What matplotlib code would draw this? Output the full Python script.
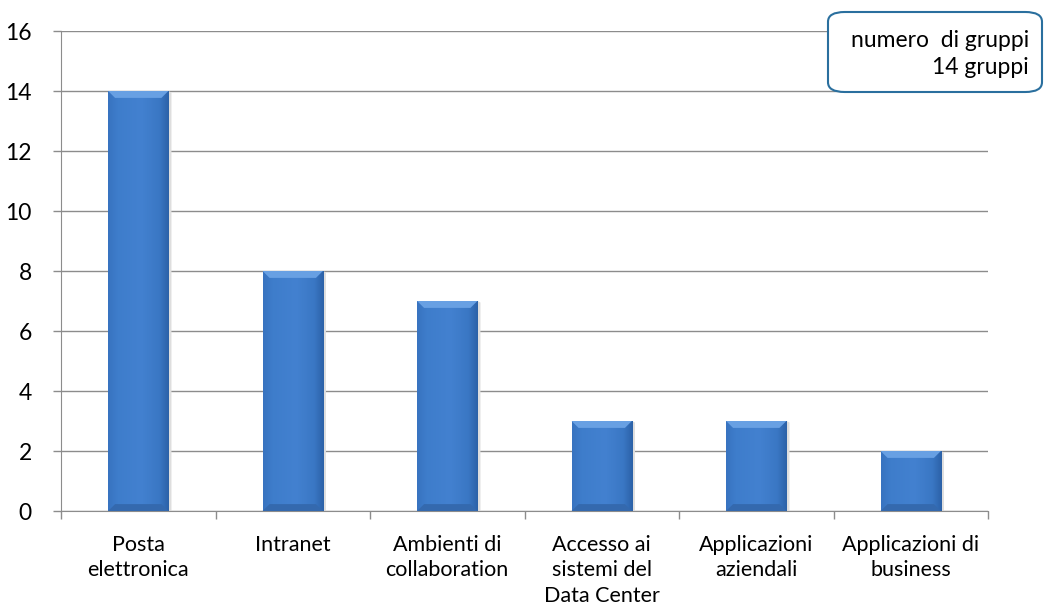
import matplotlib
matplotlib.use("Agg")
import matplotlib.pyplot as plt
import numpy as np
from matplotlib.patches import FancyBboxPatch, Polygon

categories = ["Posta\nelettronica", "Intranet", "Ambienti di\ncollaboration",
              "Accesso ai\nsistemi del\nData Center", "Applicazioni\naziendali",
              "Applicazioni di\nbusiness"]
values = [14, 8, 7, 3, 3, 2]
yticks = [0, 2, 4, 6, 8, 10, 12, 14, 16]

plt.rcParams['font.family'] = ['Lato', 'DejaVu Sans']

fig = plt.figure(figsize=(10.45, 6.1), dpi=100)
ax = fig.add_axes([61 / 1045, 1 - 511 / 610, (988 - 61) / 1045, 480 / 610])

x = np.arange(len(categories))
bw = 0.39
bars = ax.bar(x, values, width=bw, color="#3d7cc9", edgecolor="#2f64aa",
              linewidth=0.6, zorder=3)

# horizontal shading across each bar
grad = np.linspace(0, 1, 64)
cmap = matplotlib.colors.LinearSegmentedColormap.from_list(
    "b", [(0, "#3873c0"), (0.15, "#3e7dcb"), (0.55, "#4381d0"),
          (0.85, "#3a77c4"), (1, "#2c62a8")])
bx = 0.045   # bevel width (x units)
by = 0.23    # bevel height (y units)
for b in bars:
    x0, w, h = b.get_x(), b.get_width(), b.get_height()
    im = ax.imshow(grad[np.newaxis, :], cmap=cmap, vmin=0, vmax=1,
                   extent=[x0, x0 + w, 0, h], aspect="auto", zorder=4,
                   interpolation="bicubic")
    im.set_clip_path(b)
    # light top bevel
    ax.add_patch(Polygon([[x0, h], [x0 + w, h], [x0 + w - bx, h - by],
                          [x0 + bx, h - by]], closed=True,
                         facecolor="#68a0e3", edgecolor="none", zorder=5))
    # darker bottom bevel
    ax.add_patch(Polygon([[x0, 0], [x0 + w, 0], [x0 + w - bx, by],
                          [x0 + bx, by]], closed=True,
                         facecolor="#3469ae", edgecolor="none", zorder=5))
    # soft shadow on the right
    ax.add_patch(Polygon([[x0 + w, 0], [x0 + w + 0.02, 0], [x0 + w + 0.02, h - 0.05],
                          [x0 + w, h]], closed=True, facecolor="#dedede",
                         edgecolor="none", zorder=2.5))

ax.set_xlim(-0.5, len(categories) - 0.5)
ax.set_ylim(0, 16)
ax.set_yticks(yticks)
ax.set_yticklabels([str(v) for v in yticks], fontsize=16.5)
ax.yaxis.grid(True, color="#8c8c8c", linewidth=1.0, zorder=0)
ax.set_axisbelow(True)

ax.set_xticks(x)
ax.set_xticklabels(categories, fontsize=15.5, linespacing=1.36)
ax.tick_params(axis="x", length=0, pad=17)
ax.set_xticks(np.arange(-0.5, len(categories)), minor=True)
ax.tick_params(axis="x", which="minor", length=6, color="#8c8c8c", width=1)
ax.tick_params(axis="y", length=6, color="#8c8c8c", width=1, pad=15)

for s in ["top", "right"]:
    ax.spines[s].set_visible(False)
ax.spines["left"].set_color("#8c8c8c")
ax.spines["bottom"].set_color("#8c8c8c")

# info box in the top-right corner
box = FancyBboxPatch((828 / 1045, 1 - 92 / 610), (1042 - 828) / 1045, (92 - 12) / 610,
                     boxstyle="round,pad=0,rounding_size=0.016",
                     transform=fig.transFigure, facecolor="white",
                     edgecolor="#2a6f9e", linewidth=1.5, zorder=10)
fig.patches.append(box)
fig.text(1029 / 1045, 1 - 54 / 610, "numero  di gruppi\n14 gruppi", ha="right",
         va="center", fontsize=16.5, linespacing=1.3, zorder=11)

fig.savefig("out.png", dpi=100)
